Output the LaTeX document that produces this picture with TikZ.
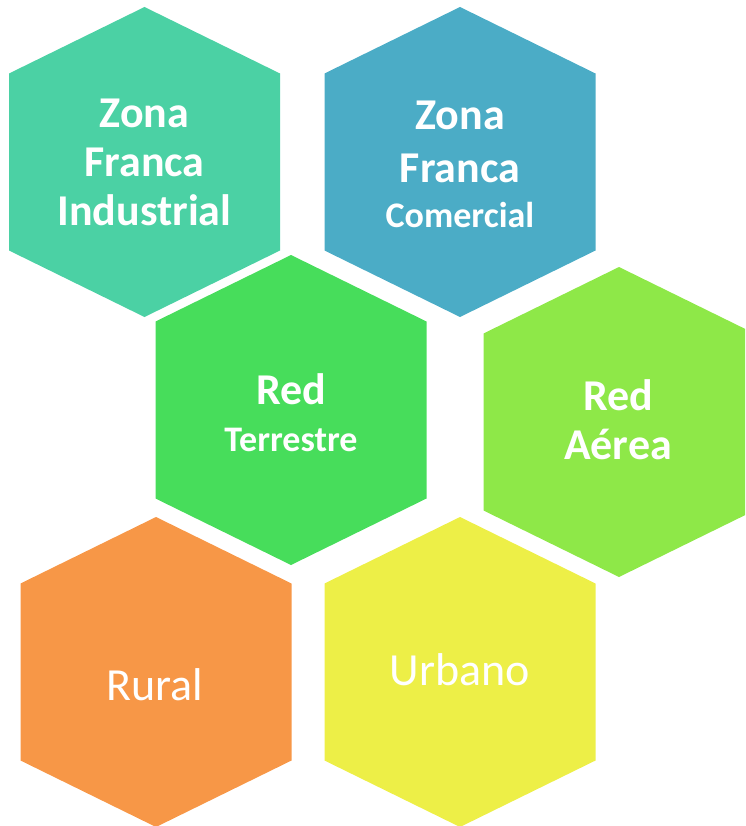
\documentclass[tikz,border=0pt]{standalone}
\usepackage{fontspec}
\setmainfont{Carlito}
\usepackage{tikz}

\definecolor{tealhex}{HTML}{4BD1A4}
\definecolor{bluehex}{HTML}{4BACC6}
\definecolor{greenhex}{HTML}{47DD5B}
\definecolor{limehex}{HTML}{8EE848}
\definecolor{orangehex}{HTML}{F79747}
\definecolor{yellowhex}{HTML}{EDEF47}

\tikzset{
	hexlabel/.style={text=white, align=center, inner sep=0pt, font=\bfseries\fontsize{44}{49}\selectfont},
	hexplain/.style={text=white, inner sep=0pt, font=\fontsize{46}{50}\selectfont},
}
\newcommand{\hexcell}[2]{%
	\fill[#2, shift={(#1)}] (0,-155) -- (135.5,-88.5) -- (135.5,88.5) -- (0,155) -- (-135.5,88.5) -- (-135.5,-88.5) -- cycle;}
\newcommand{\smalltxt}{\fontsize{36}{40}\selectfont}

\begin{document}
\begin{tikzpicture}[x=1pt, y=-1pt]
	\clip (0,0) rectangle (745,826);
	\hexcell{144.5,162}{tealhex}
	\hexcell{460,162}{bluehex}
	\hexcell{291,410}{greenhex}
	\hexcell{619,422}{limehex}
	\hexcell{156,672}{orangehex}
	\hexcell{460,672}{yellowhex}
	\node[hexlabel] (industrial) at (144.5,162) {Zona\\Franca\\Industrial};
	\node[hexlabel] (comercial) at (460,164) {Zona\\[4pt]Franca\\[-4pt]{\smalltxt Comercial}};
	\node[hexlabel] (terrestre) at (291,413) {Red\\[-2pt]{\smalltxt Terrestre}};
	\node[hexlabel] (aerea) at (618,420) {Red\\Aérea};
	\node[hexplain] (rural) at (155,685) {Rural};
	\node[hexplain] (urbano) at (460,670) {Urbano};
\end{tikzpicture}
\end{document}
